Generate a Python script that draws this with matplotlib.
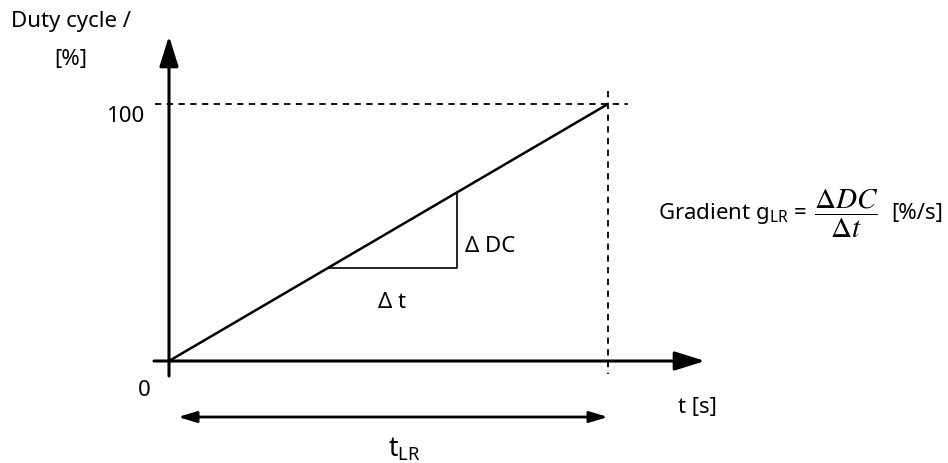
"""
Rampendiagramm: Duty cycle über Zeit mit Gradient g_LR.
"""

import matplotlib.pyplot as plt

# ============================================================
# DATEN
# ============================================================
t_ramp = [0, 10]          # Zeit, normiert auf t_LR = 10
dc_ramp = [0, 100]        # Duty cycle in %
tri_t = [3.62, 6.56]      # Steigungsdreieck (Start/Ende auf der Rampe)
y_ticks = [0, 100]
y_tick_labels = ["0", "100"]
y_label = ["Duty cycle /", "[%]"]
x_label = "t [s]"
dt_label = "Δ t"
ddc_label = "Δ DC"

T_LR = t_ramp[-1]
DC_MAX = dc_ramp[-1]

# ============================================================
# LAYOUT (Pixel des Bildes 948x464)
# ============================================================
W, H = 948, 464
X0, Y0 = 169, 362     # Ursprung
X1, Y1 = 608, 105     # (t_LR, 100 %)
sx = (X1 - X0) / T_LR
sy = (Y0 - Y1) / DC_MAX


def dx(px):
    return (px - X0) / sx


def dy(py):
    return (Y0 - py) / sy


def fig_xy(px, py):
    return px / W, 1 - py / H


plt.rcParams["font.family"] = ["Noto Sans", "DejaVu Sans"]

fig = plt.figure(figsize=(W / 100, H / 100), dpi=100)
ax = fig.add_axes([0, 0, 1, 1])
ax.set_xlim(dx(0), dx(W))
ax.set_ylim(dy(H), dy(0))
ax.axis("off")

# Achsen mit Pfeilen
axis_style = "-|>,head_length=1.85,head_width=0.58"
ax.annotate("", xy=(0, dy(37)), xytext=(0, dy(377)),
            arrowprops=dict(arrowstyle=axis_style, lw=2.2, color="black",
                            mutation_scale=10, shrinkA=0, shrinkB=0))
ax.annotate("", xy=(dx(705), 0), xytext=(dx(154), 0),
            arrowprops=dict(arrowstyle=axis_style, lw=2.2, color="black",
                            mutation_scale=10, shrinkA=0, shrinkB=0))

# Hilfslinien gestrichelt
ax.plot([dx(155), dx(628)], [DC_MAX, DC_MAX], color="black", lw=1.3,
        linestyle=(0, (3.5, 3)))
ax.plot([T_LR, T_LR], [dy(92), dy(375)], color="black", lw=1.3,
        linestyle=(0, (3.5, 3)))

# Rampe
ax.plot(t_ramp, dc_ramp, color="black", lw=1.8, solid_capstyle="butt")

# Steigungsdreieck
slope = DC_MAX / T_LR
tri_dc = [t * slope for t in tri_t]
ax.plot([tri_t[0], tri_t[1], tri_t[1]], [tri_dc[0], tri_dc[0], tri_dc[1]],
        color="black", lw=1.2)

# Doppelpfeil t_LR
ax.annotate("", xy=(T_LR, dy(418)), xytext=(dx(178), dy(418)),
            arrowprops=dict(arrowstyle="<|-|>,head_length=1.1,head_width=0.33",
                            lw=2.0, color="black", mutation_scale=10,
                            shrinkA=0, shrinkB=0))

# Beschriftungen
fs = 16
fig.text(*fig_xy(71, 22), y_label[0], fontsize=fs, ha="center", va="center")
fig.text(*fig_xy(71, 60), y_label[1], fontsize=fs, ha="center", va="center")
fig.text(*fig_xy(144, 116), y_tick_labels[1], fontsize=fs, ha="right", va="center")
fig.text(*fig_xy(144, 391), y_tick_labels[0], fontsize=fs, ha="center", va="center")
fig.text(*fig_xy(697, 408), x_label, fontsize=fs, ha="center", va="center")
fig.text(*fig_xy(465, 247), ddc_label, fontsize=fs, ha="left", va="center")
fig.text(*fig_xy(392, 303), dt_label, fontsize=fs, ha="center", va="center")
fig.text(*fig_xy(404, 450), r"t$_\mathregular{LR}$", fontsize=19,
         ha="center", va="center")

# Formel
fig.text(*fig_xy(807, 214), r"Gradient g$_\mathregular{LR}$ =", fontsize=fs,
         ha="right", va="center")
fig.text(*fig_xy(846, 214), r"$\dfrac{\Delta DC}{\Delta t}$", fontsize=21,
         ha="center", va="center", math_fontfamily="stix")
fig.text(*fig_xy(891, 214), "[%/s]", fontsize=fs, ha="left", va="center")

fig.savefig("out.png", dpi=100)
